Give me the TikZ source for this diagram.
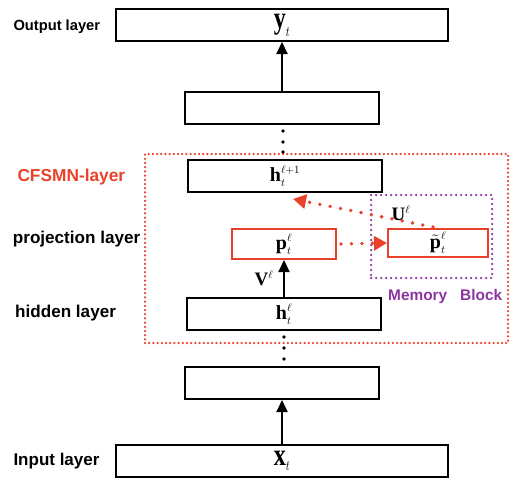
\documentclass[tikz,border=0pt]{standalone}
\usepackage{fontspec}
\usepackage{graphicx}
\setmainfont{Liberation Serif}
\setsansfont{Liberation Sans}
\usetikzlibrary{arrows.meta}
\definecolor{cfred}{RGB}{233,66,44}
\definecolor{mpurple}{RGB}{140,52,160}
\newcommand\bv[1]{\mbox{\bfseries #1}}
\newcommand\tallbox[1]{\scalebox{1}[1.3]{#1}}
\newcommand\fsz[1]{\fontsize{#1}{#1}\selectfont}
\newcommand\ssc[1]{\mbox{\fsz{11}$#1$}}
\begin{document}
\begin{tikzpicture}[x=1pt,y=1pt,
  box/.style={draw=black,line width=2pt,inner sep=0pt,minimum height=32pt},
  rbox/.style={draw=cfred,line width=2pt,inner sep=0pt,minimum width=104pt,minimum height=30pt},
  arr/.style={line width=2pt,-{Triangle[width=11pt,length=12pt]}},
  darr/.style={cfred,line width=3.8pt,dash pattern=on 0pt off 10.5pt,line cap=round,-{Triangle[width=14pt,length=13pt]}},
  lbl/.style={anchor=base west,inner sep=0pt},
  dotn/.style={circle,fill=black,inner sep=0pt,minimum size=3.6pt},
  frame/.style={inner sep=0pt,line width=2.5pt,line cap=round},
]
\useasboundingbox (0,0) rectangle (529,-479);
% frames
\node[frame,draw=cfred,dash pattern=on 0pt off 4.2pt,minimum width=363pt,minimum height=189pt] (cfsmn) at (326.5,-248.5) {};
\node[frame,draw=mpurple,dash pattern=on 0pt off 5pt,minimum width=121pt,minimum height=83pt] (mem) at (431.5,-236.5) {};
% boxes
\node[box,minimum width=332pt,font=\fsz{24}] (out) at (282,-25) {\tallbox{$\bv{y}_{\ssc{t}}$}};
\node[box,minimum width=194pt] (e1) at (282,-108) {};
\node[box,minimum width=194pt,font=\fsz{20}] (hn) at (285,-176) {$\bv{h}_{\ssc{t}}^{\ssc{\ell{+}1}}$};
\node[rbox,fill=white,font=\fsz{20}] (p) at (284,-244) {$\bv{p}_{\ssc{t}}^{\ssc{\ell}}$};
\node[rbox,fill=white,minimum width=100pt,minimum height=28pt,font=\fsz{20}] (pt) at (438,-243) {$\tilde{\bv{p}}_{\ssc{t}}^{\ssc{\ell}}$};
\node[box,minimum width=194pt,font=\fsz{20}] (hl) at (284,-314) {$\bv{h}_{\ssc{t}}^{\ssc{\ell}}$};
\node[box,minimum width=194pt] (e2) at (282,-383) {};
\node[box,minimum width=332pt,font=\fsz{24}] (in) at (282,-461) {\tallbox{$\bv{x}_{\ssc{t}}$}};
% dots
\node[dotn] (d1) at (283,-131) {};
\node[dotn] (d2) at (283,-142) {};
\node[dotn] (d3) at (283,-152) {};
\node[dotn] (d4) at (284,-337) {};
\node[dotn] (d5) at (284,-348) {};
\node[dotn] (d6) at (284,-359) {};
% arrows
\draw[arr] (e1.north) -- (e1.north |- out.south);
\draw[arr] (hl.north) -- (hl.north |- p.south);
\draw[arr] (e2.south |- in.north) -- (e2.south);
\draw[darr,shorten <=4pt] (p.east) -- (pt.west);
\coordinate (htip) at (293,-199);
\draw[darr,shorten <=5pt] (pt.north) -- (htip);
% labels
\node[lbl,font=\sffamily\bfseries\fsz{14.7}] (lo) at (13.3,-30.5) {Output layer};
\node[lbl,font=\sffamily\bfseries\fsz{17.3},text=cfred] (lc) at (17.3,-181) {CFSMN-layer};
\node[lbl,font=\sffamily\bfseries\fsz{17.1}] (lp) at (12.7,-243) {projection layer};
\node[lbl,font=\sffamily\bfseries\fsz{17.1}] (lh) at (15,-317) {hidden layer};
\node[lbl,font=\sffamily\bfseries\fsz{17}] (li) at (13.3,-465) {Input layer};
\node[lbl,font=\sffamily\bfseries\fsz{15.4},text=mpurple] (lm) at (388,-300) {Memory\hspace{13pt}Block};
\node[font=\fsz{19}] (lv) at (264,-278) {$\bv{V}^{\ssc{\ell}}$};
\node[font=\fsz{19}] (lu) at (401,-213) {$\bv{U}^{\ssc{\ell}}$};
\end{tikzpicture}
\end{document}
